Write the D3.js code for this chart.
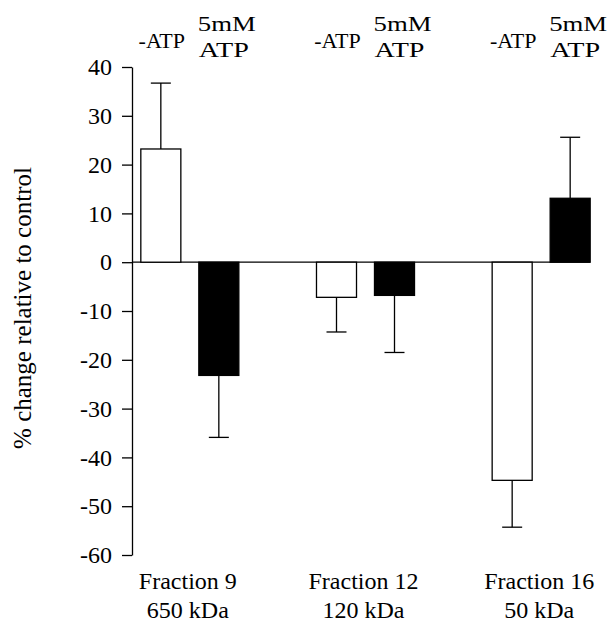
<!DOCTYPE html>
<html>
<head>
<meta charset="utf-8">
<script src="https://cdn.jsdelivr.net/npm/d3@7"></script>
<style>
  body { margin: 0; background: #fff; }
</style>
</head>
<body>
<script>
var width = 608;
var height = 624;
var serif = "'Liberation Serif', 'Times New Roman', Times, 'Nimbus Roman', 'DejaVu Serif', 'Noto Serif', serif";

// data
var fractions = ["Fraction 9", "Fraction 12", "Fraction 16"];
var sizes = ["650 kDa", "120 kDa", "50 kDa"];
var series = ["-ATP", "5mM ATP"];
var noAtp = [23.2, -7.2, -44.7];
var noAtpErr = [13.5, 7.1, 9.6];
var withAtp = [-23.2, -6.8, 13.1];
var withAtpErr = [12.7, 11.7, 12.5];
var yTicks = [40, 30, 20, 10, 0, -10, -20, -30, -40, -50, -60];

var rows = [];
fractions.forEach(function(f, i) {
  rows.push({group: f, s: "-ATP", v: noAtp[i], e: noAtpErr[i]});
  rows.push({group: f, s: "5mM ATP", v: withAtp[i], e: withAtpErr[i]});
});

var svg = d3.select("body").append("svg")
    .attr("width", width)
    .attr("height", height)
    .attr("font-family", serif);

var axisX = 132;

var y = d3.scaleLinear()
    .domain([-60, 40])
    .range([555, 67]);

var x0 = d3.scaleBand()
    .domain(fractions)
    .range([102, 629]);

// bars inside each group, relative to group centre
var x1 = d3.scaleBand()
    .domain(series)
    .range([-58, 58])
    .paddingInner(0.31)
    .paddingOuter(0.155);

function groupCenter(g) { return x0(g) + x0.bandwidth() / 2; }

// y axis
var yAxis = d3.axisLeft(y)
    .tickValues(yTicks)
    .tickSize(10)
    .tickSizeOuter(0)
    .tickPadding(10)
    .tickFormat(function(d) { return String(d); });

var ga = svg.append("g")
    .attr("transform", "translate(" + axisX + ",0)")
    .call(yAxis)
    .attr("font-family", serif)
    .attr("font-size", 24);
ga.select(".domain").attr("stroke", "#000").attr("stroke-width", 1.3);
ga.selectAll(".tick line").attr("stroke", "#000").attr("stroke-width", 1.3);
ga.selectAll(".tick text").attr("fill", "#000");

svg.append("text")
    .attr("transform", "translate(31,308) rotate(-90)")
    .attr("text-anchor", "middle")
    .attr("font-size", 25)
    .text("% change relative to control");

// zero line
var lastRight = groupCenter(fractions[2]) + x1("5mM ATP") + x1.bandwidth();
svg.append("line")
    .attr("x1", axisX).attr("x2", lastRight)
    .attr("y1", y(0)).attr("y2", y(0))
    .attr("stroke", "#000").attr("stroke-width", 1.3);

// error bars (one direction, away from zero)
var capW = 20;
function barMid(d) { return groupCenter(d.group) + x1(d.s) + x1.bandwidth() / 2; }
function errEnd(d) { return y(d.v + (d.v < 0 ? -d.e : d.e)); }
var err = svg.append("g").selectAll("g").data(rows).enter().append("g");
err.append("line")
    .attr("x1", barMid).attr("x2", barMid)
    .attr("y1", function(d) { return y(d.v); })
    .attr("y2", errEnd)
    .attr("stroke", "#000").attr("stroke-width", 1.3);
err.append("line")
    .attr("x1", function(d) { return barMid(d) - capW / 2; })
    .attr("x2", function(d) { return barMid(d) + capW / 2; })
    .attr("y1", errEnd).attr("y2", errEnd)
    .attr("stroke", "#000").attr("stroke-width", 1.3);

// bars
svg.append("g").selectAll("rect").data(rows).enter().append("rect")
    .attr("x", function(d) { return groupCenter(d.group) + x1(d.s); })
    .attr("y", function(d) { return y(Math.max(0, d.v)); })
    .attr("width", x1.bandwidth())
    .attr("height", function(d) { return Math.abs(y(d.v) - y(0)); })
    .attr("fill", function(d) { return d.s == "-ATP" ? "#fff" : "#000"; })
    .attr("stroke", "#000")
    .attr("stroke-width", 1.3);

// series labels above each group
fractions.forEach(function(f) {
  var c = groupCenter(f);
  var a = c + x1("-ATP") + x1.bandwidth() / 2 + 1;
  var b = c + x1("5mM ATP") + x1.bandwidth() / 2 + 8;
  svg.append("text").attr("x", a).attr("y", 48)
      .attr("text-anchor", "middle").attr("font-size", 22).text("-ATP");
  svg.append("text").attr("x", b).attr("y", 31)
      .attr("text-anchor", "middle").attr("font-size", 22)
      .attr("textLength", 58).attr("lengthAdjust", "spacingAndGlyphs").text("5mM");
  svg.append("text").attr("x", b - 3).attr("y", 57)
      .attr("text-anchor", "middle").attr("font-size", 22)
      .attr("textLength", 50).attr("lengthAdjust", "spacingAndGlyphs").text("ATP");
});

// category labels
fractions.forEach(function(f, i) {
  svg.append("text")
      .attr("x", groupCenter(f) - 2)
      .attr("y", 589)
      .attr("text-anchor", "middle")
      .attr("font-size", 24)
      .text(f);
  svg.append("text")
      .attr("x", groupCenter(f) - 2)
      .attr("y", 618)
      .attr("text-anchor", "middle")
      .attr("font-size", 24)
      .text(sizes[i]);
});
</script>
</body>
</html>
